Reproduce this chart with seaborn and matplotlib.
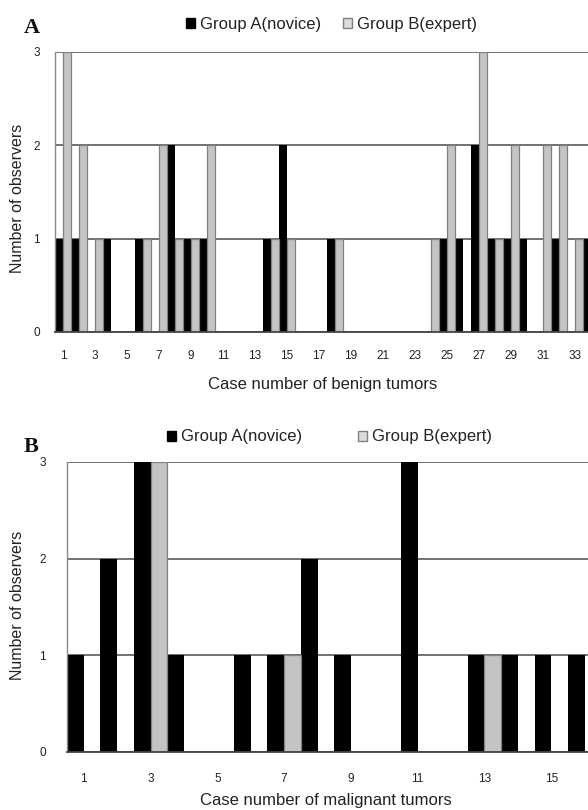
import matplotlib
matplotlib.use("Agg")
import matplotlib.pyplot as plt
from matplotlib.patches import Patch
import seaborn as sns
import pandas as pd

# Panel A: benign tumors (cases 1-34, the right end is cut off in the original)
benign_cases = list(range(1, 35))
benign_novice = [1, 1, 0, 1, 0, 1, 0, 2, 1, 1,
                 0, 0, 0, 1, 2, 0, 0, 1, 0, 0,
                 0, 0, 0, 0, 1, 1, 2, 1, 1, 1,
                 0, 1, 0, 1]
benign_expert = [3, 2, 1, 0, 0, 1, 2, 1, 1, 2,
                 0, 0, 0, 1, 1, 0, 0, 1, 0, 0,
                 0, 0, 0, 1, 2, 0, 3, 1, 2, 0,
                 2, 2, 1, 0]

# Panel B: malignant tumors (cases 1-16 visible)
malignant_cases = list(range(1, 17))
malignant_novice = [1, 2, 3, 1, 0, 1, 1, 2, 1, 0, 3, 0, 1, 1, 1, 1]
malignant_expert = [0, 0, 3, 0, 0, 0, 1, 0, 0, 0, 0, 0, 1, 0, 0, 0]

groups = ["Group A(novice)", "Group B(expert)"]
colors = ["#000000", "#c4c4c4"]

sns.set_style("white")
plt.rcParams["font.family"] = ["Liberation Sans", "DejaVu Sans"]
text_color = "#222222"

W, H = 588, 810
fig = plt.figure(figsize=(W / 100, H / 100), dpi=100)


def to_long(cases, novice, expert):
    df = pd.DataFrame({"case": cases, groups[0]: novice, groups[1]: expert})
    return df.melt(id_vars="case", var_name="group", value_name="count")


def draw_panel(ax, df, n_slots, tick_pad_x, tick_pad_y):
    sns.barplot(data=df, x="case", y="count", hue="group", hue_order=groups,
                palette=colors, saturation=1, width=1.0, gap=0,
                linewidth=0, legend=False, ax=ax)
    n = df["case"].nunique()
    for i, p in enumerate(ax.patches):
        if i >= n:
            p.set_edgecolor("#808080")
            p.set_linewidth(0.9)
    ax.set_xlim(-0.5, n_slots - 0.5)
    ax.set_ylim(0, 3)
    ax.set_yticks([0, 1, 2, 3])
    ax.set_yticklabels(["0", "1", "2", "3"])
    cases = sorted(df["case"].unique())
    ax.set_xticks(range(0, n, 2))
    ax.set_xticklabels([str(c) for c in cases[::2]])
    ax.set_axisbelow(True)
    ax.yaxis.grid(True, color="#5a5a5a", linewidth=1.2)
    ax.xaxis.grid(False)
    for s in ["top", "right"]:
        ax.spines[s].set_visible(False)
    ax.spines["left"].set_color("#8a8a8a")
    ax.spines["left"].set_linewidth(1.0)
    ax.spines["bottom"].set_color("#444444")
    ax.spines["bottom"].set_linewidth(1.3)
    ax.tick_params(axis="x", length=0, pad=tick_pad_x, labelsize=8.5, labelcolor=text_color)
    ax.tick_params(axis="y", length=0, pad=tick_pad_y, labelsize=8.5, labelcolor=text_color)
    ax.set_xlabel("")
    ax.set_ylabel("")


def px_axes(left, top, right, bottom):
    return fig.add_axes([left / W, 1 - bottom / H, (right - left) / W, (bottom - top) / H])


# Panel A
axA = px_axes(55, 52, 55 + 34 * 16.0, 332)
draw_panel(axA, to_long(benign_cases, benign_novice, benign_expert), 34, 13, 11)

# Panel B
axB = px_axes(67, 462, 67 + 17 * 33.4, 752)
draw_panel(axB, to_long(malignant_cases, malignant_novice, malignant_expert), 17, 15, 15)

# Panel letters
fig.text(24 / W, 1 - 28 / H, "A", fontsize=16, fontweight="bold",
         family="Liberation Serif", va="center", ha="left", color="#111111")
fig.text(24 / W, 1 - 447 / H, "B", fontsize=16, fontweight="bold",
         family="Liberation Serif", va="center", ha="left", color="#111111")

# Axis titles
fig.text(323 / W, 1 - 385 / H, "Case number of benign tumors", fontsize=12,
         ha="center", va="center", color=text_color)
fig.text(326 / W, 1 - 800 / H, "Case number of malignant tumors", fontsize=12,
         ha="center", va="center", color=text_color)
fig.text(18 / W, 1 - 198 / H, "Number of observers", fontsize=11.5, rotation=90,
         ha="center", va="center", color=text_color)
fig.text(18 / W, 1 - 605 / H, "Number of observers", fontsize=11.5, rotation=90,
         ha="center", va="center", color=text_color)

# Legends
handles = [Patch(facecolor=colors[0], edgecolor="#000000"),
           Patch(facecolor="#dcdcdc", edgecolor="#808080")]
fig.legend(handles, groups, loc="center left", bbox_to_anchor=(186 / W, 1 - 24 / H),
           ncol=2, frameon=False, fontsize=12, handlelength=0.55, handleheight=0.55,
           handletextpad=0.3, columnspacing=1.3, borderpad=0, borderaxespad=0,
           labelcolor=text_color)
fig.legend(handles, groups, loc="center left", bbox_to_anchor=(167 / W, 1 - 437 / H),
           ncol=2, frameon=False, fontsize=12, handlelength=0.55, handleheight=0.55,
           handletextpad=0.3, columnspacing=3.35, borderpad=0, borderaxespad=0,
           labelcolor=text_color)

fig.savefig("out.png", dpi=100)
